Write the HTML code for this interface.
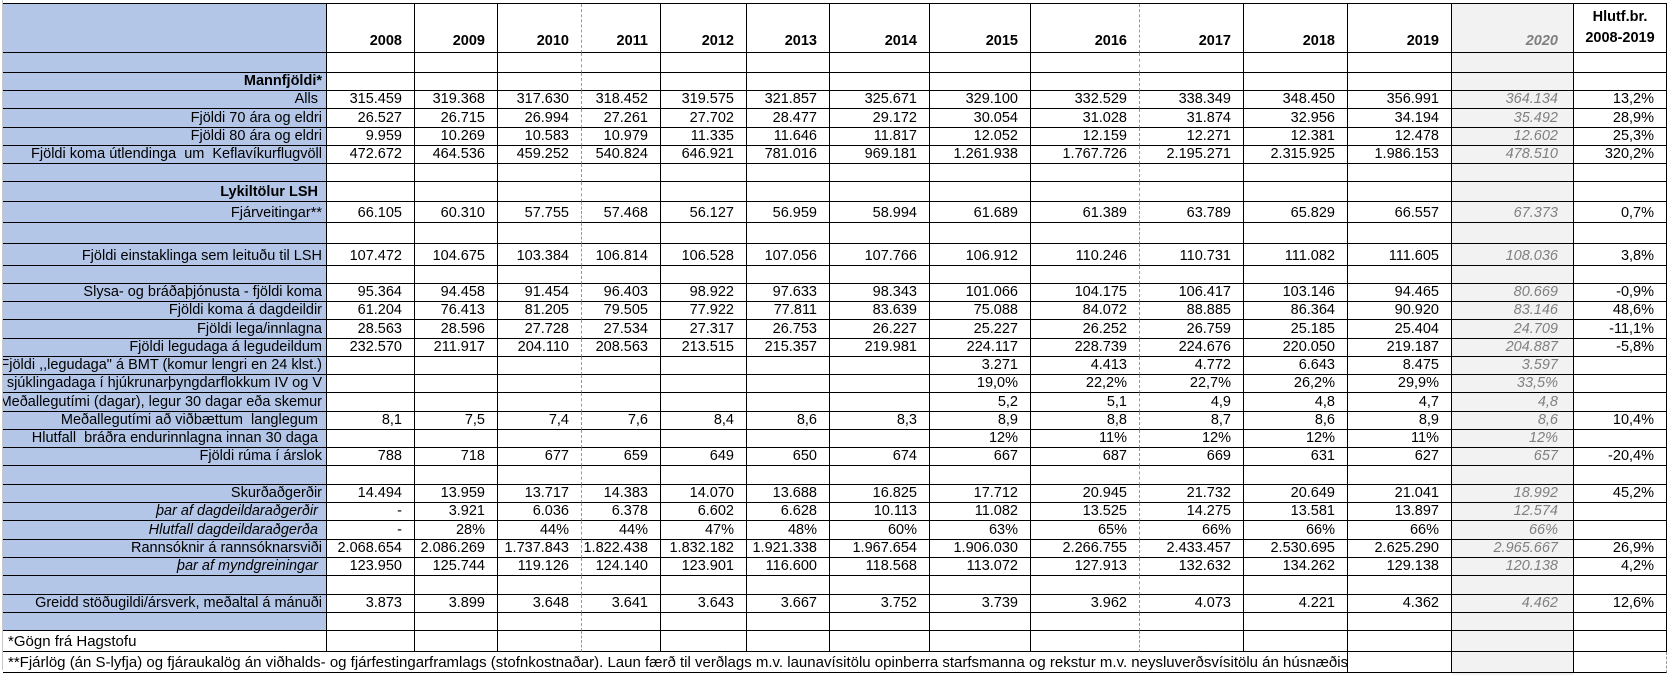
<!DOCTYPE html>
<html><head><meta charset="utf-8">
<style>
html,body{margin:0;padding:0;background:#fff;}
body{width:1672px;height:675px;overflow:hidden;position:relative;font-family:"Liberation Sans",Arial,sans-serif;font-size:14.5px;color:#000;}
table{position:absolute;left:3px;top:3px;border-collapse:separate;border-spacing:0;table-layout:fixed;width:1664px;border-top:1px solid #000;}
td{box-sizing:border-box;border-right:1px solid #000;border-bottom:1px solid #000;padding:0 12px 1px 0;text-align:right;vertical-align:bottom;white-space:nowrap;overflow:hidden;line-height:16px;}
td:nth-child(1){background:#b4c6e7;padding:0 4px 1px 0;}
td:nth-child(4),td:nth-child(10){border-right:1px dashed #9a9a9a;}
td:nth-child(14){background:#f2f2f2;color:#7f7f7f;font-style:italic;padding-right:15px;}
.lab{display:flex;justify-content:flex-end;overflow:hidden;}
.b{font-weight:bold;}
.i{font-style:italic;padding-right:5px;}
tr.h td{font-weight:bold;padding-bottom:3px;}
tr.h td:nth-child(15){text-align:center;padding:0 0 3px 0;line-height:21px;}
tr.fn td.w{background:#fff;text-align:left;padding-left:5px;font-size:15px;}
tr.fn td.gr{background:#f2f2f2;}
tr.fn td.n{background:#fff;}
#tail{position:absolute;left:1452px;top:669px;width:122px;height:6px;background:#f2f2f2;}
#gut{position:absolute;left:2px;top:0;width:1px;height:670px;background:#c8c8c8;}
</style></head><body>
<div id="gut"></div>
<div id="tail"></div>
<table>
<colgroup>
<col style="width:324px"><col style="width:88px"><col style="width:83px"><col style="width:84px"><col style="width:79px"><col style="width:86px"><col style="width:83px"><col style="width:100px"><col style="width:101px"><col style="width:109px"><col style="width:104px"><col style="width:104px"><col style="width:104px"><col style="width:122px"><col style="width:93px">
</colgroup>
<tr class="h" style="height:49px"><td></td><td>2008</td><td>2009</td><td>2010</td><td>2011</td><td>2012</td><td>2013</td><td>2014</td><td>2015</td><td>2016</td><td>2017</td><td>2018</td><td>2019</td><td>2020</td><td>Hlutf.br.<br>2008-2019</td></tr>
<tr style="height:20px"><td></td><td></td><td></td><td></td><td></td><td></td><td></td><td></td><td></td><td></td><td></td><td></td><td></td><td></td><td></td></tr>
<tr style="height:18px"><td class="b">Mannfjöldi*</td><td></td><td></td><td></td><td></td><td></td><td></td><td></td><td></td><td></td><td></td><td></td><td></td><td></td><td></td></tr>
<tr style="height:18px"><td>Alls&nbsp;</td><td>315.459</td><td>319.368</td><td>317.630</td><td>318.452</td><td>319.575</td><td>321.857</td><td>325.671</td><td>329.100</td><td>332.529</td><td>338.349</td><td>348.450</td><td>356.991</td><td>364.134</td><td>13,2%</td></tr>
<tr style="height:19px"><td>Fjöldi 70 ára og eldri</td><td>26.527</td><td>26.715</td><td>26.994</td><td>27.261</td><td>27.702</td><td>28.477</td><td>29.172</td><td>30.054</td><td>31.028</td><td>31.874</td><td>32.956</td><td>34.194</td><td>35.492</td><td>28,9%</td></tr>
<tr style="height:18px"><td>Fjöldi 80 ára og eldri</td><td>9.959</td><td>10.269</td><td>10.583</td><td>10.979</td><td>11.335</td><td>11.646</td><td>11.817</td><td>12.052</td><td>12.159</td><td>12.271</td><td>12.381</td><td>12.478</td><td>12.602</td><td>25,3%</td></tr>
<tr style="height:18px"><td>Fjöldi koma útlendinga&nbsp; um&nbsp; Keflavíkurflugvöll</td><td>472.672</td><td>464.536</td><td>459.252</td><td>540.824</td><td>646.921</td><td>781.016</td><td>969.181</td><td>1.261.938</td><td>1.767.726</td><td>2.195.271</td><td>2.315.925</td><td>1.986.153</td><td>478.510</td><td>320,2%</td></tr>
<tr style="height:18px"><td></td><td></td><td></td><td></td><td></td><td></td><td></td><td></td><td></td><td></td><td></td><td></td><td></td><td></td><td></td></tr>
<tr style="height:20px"><td class="b">Lykiltölur LSH&nbsp;</td><td></td><td></td><td></td><td></td><td></td><td></td><td></td><td></td><td></td><td></td><td></td><td></td><td></td><td></td></tr>
<tr style="height:21px"><td>Fjárveitingar**</td><td>66.105</td><td>60.310</td><td>57.755</td><td>57.468</td><td>56.127</td><td>56.959</td><td>58.994</td><td>61.689</td><td>61.389</td><td>63.789</td><td>65.829</td><td>66.557</td><td>67.373</td><td>0,7%</td></tr>
<tr style="height:21px"><td></td><td></td><td></td><td></td><td></td><td></td><td></td><td></td><td></td><td></td><td></td><td></td><td></td><td></td><td></td></tr>
<tr style="height:22px"><td>Fjöldi einstaklinga sem leituðu til LSH</td><td>107.472</td><td>104.675</td><td>103.384</td><td>106.814</td><td>106.528</td><td>107.056</td><td>107.766</td><td>106.912</td><td>110.246</td><td>110.731</td><td>111.082</td><td>111.605</td><td>108.036</td><td>3,8%</td></tr>
<tr style="height:18px"><td></td><td></td><td></td><td></td><td></td><td></td><td></td><td></td><td></td><td></td><td></td><td></td><td></td><td></td><td></td></tr>
<tr style="height:18px"><td>Slysa- og bráðaþjónusta - fjöldi koma</td><td>95.364</td><td>94.458</td><td>91.454</td><td>96.403</td><td>98.922</td><td>97.633</td><td>98.343</td><td>101.066</td><td>104.175</td><td>106.417</td><td>103.146</td><td>94.465</td><td>80.669</td><td>-0,9%</td></tr>
<tr style="height:18px"><td>Fjöldi koma á dagdeildir</td><td>61.204</td><td>76.413</td><td>81.205</td><td>79.505</td><td>77.922</td><td>77.811</td><td>83.639</td><td>75.088</td><td>84.072</td><td>88.885</td><td>86.364</td><td>90.920</td><td>83.146</td><td>48,6%</td></tr>
<tr style="height:19px"><td>Fjöldi lega/innlagna</td><td>28.563</td><td>28.596</td><td>27.728</td><td>27.534</td><td>27.317</td><td>26.753</td><td>26.227</td><td>25.227</td><td>26.252</td><td>26.759</td><td>25.185</td><td>25.404</td><td>24.709</td><td>-11,1%</td></tr>
<tr style="height:18px"><td>Fjöldi legudaga á legudeildum</td><td>232.570</td><td>211.917</td><td>204.110</td><td>208.563</td><td>213.515</td><td>215.357</td><td>219.981</td><td>224.117</td><td>228.739</td><td>224.676</td><td>220.050</td><td>219.187</td><td>204.887</td><td>-5,8%</td></tr>
<tr style="height:18px"><td><div class="lab">Fjöldi ,,legudaga" á BMT (komur lengri en 24 klst.)</div></td><td></td><td></td><td></td><td></td><td></td><td></td><td></td><td>3.271</td><td>4.413</td><td>4.772</td><td>6.643</td><td>8.475</td><td>3.597</td><td></td></tr>
<tr style="height:18px"><td><div class="lab">Hlutfall sjúklingadaga í hjúkrunarþyngdarflokkum IV og V</div></td><td></td><td></td><td></td><td></td><td></td><td></td><td></td><td>19,0%</td><td>22,2%</td><td>22,7%</td><td>26,2%</td><td>29,9%</td><td>33,5%</td><td></td></tr>
<tr style="height:19px"><td><div class="lab">Meðallegutími (dagar), legur 30 dagar eða skemur</div></td><td></td><td></td><td></td><td></td><td></td><td></td><td></td><td>5,2</td><td>5,1</td><td>4,9</td><td>4,8</td><td>4,7</td><td>4,8</td><td></td></tr>
<tr style="height:18px"><td>Meðallegutími að viðbættum&nbsp; langlegum&nbsp;</td><td>8,1</td><td>7,5</td><td>7,4</td><td>7,6</td><td>8,4</td><td>8,6</td><td>8,3</td><td>8,9</td><td>8,8</td><td>8,7</td><td>8,6</td><td>8,9</td><td>8,6</td><td>10,4%</td></tr>
<tr style="height:18px"><td>Hlutfall&nbsp; bráðra endurinnlagna innan 30 daga&nbsp;</td><td></td><td></td><td></td><td></td><td></td><td></td><td></td><td>12%</td><td>11%</td><td>12%</td><td>12%</td><td>11%</td><td>12%</td><td></td></tr>
<tr style="height:17px"><td>Fjöldi rúma í árslok</td><td>788</td><td>718</td><td>677</td><td>659</td><td>649</td><td>650</td><td>674</td><td>667</td><td>687</td><td>669</td><td>631</td><td>627</td><td>657</td><td>-20,4%</td></tr>
<tr style="height:19px"><td></td><td></td><td></td><td></td><td></td><td></td><td></td><td></td><td></td><td></td><td></td><td></td><td></td><td></td><td></td></tr>
<tr style="height:18px"><td>Skurðaðgerðir</td><td>14.494</td><td>13.959</td><td>13.717</td><td>14.383</td><td>14.070</td><td>13.688</td><td>16.825</td><td>17.712</td><td>20.945</td><td>21.732</td><td>20.649</td><td>21.041</td><td>18.992</td><td>45,2%</td></tr>
<tr style="height:17px"><td class="i">þar af dagdeildaraðgerðir&nbsp;</td><td>-</td><td>3.921</td><td>6.036</td><td>6.378</td><td>6.602</td><td>6.628</td><td>10.113</td><td>11.082</td><td>13.525</td><td>14.275</td><td>13.581</td><td>13.897</td><td>12.574</td><td></td></tr>
<tr style="height:19px"><td class="i">Hlutfall dagdeildaraðgerða&nbsp;</td><td>-</td><td>28%</td><td>44%</td><td>44%</td><td>47%</td><td>48%</td><td>60%</td><td>63%</td><td>65%</td><td>66%</td><td>66%</td><td>66%</td><td>66%</td><td></td></tr>
<tr style="height:17px"><td>Rannsóknir á rannsóknarsviði</td><td>2.068.654</td><td>2.086.269</td><td>1.737.843</td><td>1.822.438</td><td>1.832.182</td><td>1.921.338</td><td>1.967.654</td><td>1.906.030</td><td>2.266.755</td><td>2.433.457</td><td>2.530.695</td><td>2.625.290</td><td>2.965.667</td><td>26,9%</td></tr>
<tr style="height:18px"><td class="i">þar af myndgreiningar&nbsp;</td><td>123.950</td><td>125.744</td><td>119.126</td><td>124.140</td><td>123.901</td><td>116.600</td><td>118.568</td><td>113.072</td><td>127.913</td><td>132.632</td><td>134.262</td><td>129.138</td><td>120.138</td><td>4,2%</td></tr>
<tr style="height:19px"><td></td><td></td><td></td><td></td><td></td><td></td><td></td><td></td><td></td><td></td><td></td><td></td><td></td><td></td><td></td></tr>
<tr style="height:17px"><td>Greidd stöðugildi/ársverk, meðaltal á mánuði</td><td>3.873</td><td>3.899</td><td>3.648</td><td>3.641</td><td>3.643</td><td>3.667</td><td>3.752</td><td>3.739</td><td>3.962</td><td>4.073</td><td>4.221</td><td>4.362</td><td>4.462</td><td>12,6%</td></tr>
<tr style="height:18px"><td></td><td></td><td></td><td></td><td></td><td></td><td></td><td></td><td></td><td></td><td></td><td></td><td></td><td></td><td></td></tr>
<tr class="fn" style="height:21px"><td class="w">*Gögn frá Hagstofu</td><td></td><td></td><td></td><td></td><td></td><td></td><td></td><td></td><td></td><td></td><td></td><td></td><td></td><td></td></tr>
<tr class="fn" style="height:21px"><td class="w" colspan="12" style="overflow:visible">**Fjárlög (án S-lyfja) og fjáraukalög án viðhalds- og fjárfestingarframlags (stofnkostnaðar). Laun færð til verðlags m.v. launavísitölu opinberra starfsmanna og rekstur m.v. neysluverðsvísitölu án húsnæðis</td><td class="n"></td><td class="gr"></td><td class="n"></td></tr>
</table>
</body></html>
